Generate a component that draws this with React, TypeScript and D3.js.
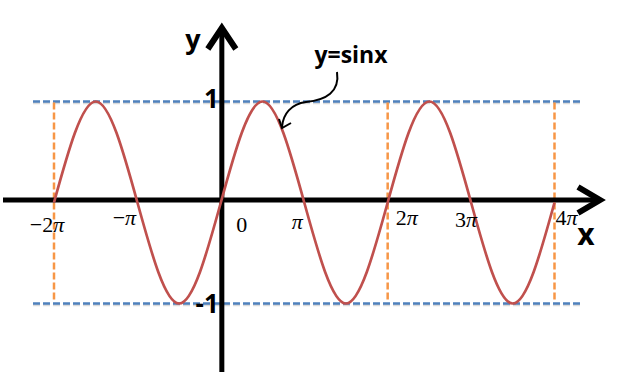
import React from "react";
import * as d3 from "d3";

// x in units of π, y = value
const curveX = [-2, -1.5, -1, -0.5, 0, 0.5, 1, 1.5, 2, 2.5, 3, 3.5, 4];
const curveY = [0, 1, 0, -1, 0, 1, 0, -1, 0, 1, 0, -1, 0];
const tickValues = [-2, -1, 0, 1, 2, 3, 4];
const tickNums = ["−2", "−", "0", "", "2", "3", "4"];
const tickPi = [true, true, false, true, true, true, true];
const guideX = [-2, 2, 4];
const guideY = [1, -1];
const yTickValues = [1, -1];
const yTickLabels = ["1", "-1"];
const title = "y=sinx";

// layout offsets for tick labels (dx, dy from tick / axis)
const tickDx = [-7, -13, 21, -7, 19, -5, 12];
const tickDy = [32, 25, 32, 29, 25, 27, 25];

export default function App() {
  const W = 630, H = 380;
  const x = d3.scaleLinear().domain([-2, 4]).range([54, 554.5]);
  const y = d3.scaleLinear().domain([-1, 1]).range([303.5, 101.5]);
  const axisY = 200;
  const axisX = x(0) + 1;

  const pts: [number, number][] = curveX.map((v, i) => [v, curveY[i]]);
  const line = d3
    .line<[number, number]>()
    .x((d) => x(d[0]))
    .y((d) => y(d[1]))
    .curve(d3.curveNatural);

  const serif = "'Liberation Serif', 'Times New Roman', serif";
  const sans = "'Open Sans', 'DejaVu Sans', sans-serif";

  return (
    <svg
      width={W}
      height={H}
      style={{ position: "absolute", left: 0, top: 0, background: "#fff" }}
    >
      {guideY.map((g) => (
        <g key={"gy" + g}>
          <line
            x1={33}
            x2={580}
            y1={y(g) + 1.5}
            y2={y(g) + 1.5}
            stroke="#999"
            strokeOpacity={0.35}
            strokeWidth={2.5}
            strokeDasharray="7,3"
          />
          <line
            x1={33}
            x2={580}
            y1={y(g)}
            y2={y(g)}
            stroke="#4F81BD"
            strokeWidth={2.5}
            strokeDasharray="7,3"
          />
        </g>
      ))}
      {guideX.map((g) => (
        <line
          key={"gx" + g}
          x1={x(g)}
          x2={x(g)}
          y1={y(1) + 1}
          y2={y(-1) - 1}
          stroke="#F79646"
          strokeWidth={2.5}
          strokeDasharray="7,3"
        />
      ))}
      <line x1={3} x2={598} y1={axisY} y2={axisY} stroke="#000" strokeWidth={5} />
      <polyline
        points={`578,187 600,${axisY} 578,213`}
        fill="none"
        stroke="#000"
        strokeWidth={6}
        strokeLinejoin="miter"
      />
      <line x1={axisX} x2={axisX} y1={372} y2={30} stroke="#000" strokeWidth={5} />
      <polyline
        points={`${axisX - 14},49 ${axisX},28 ${axisX + 14},49`}
        fill="none"
        stroke="#000"
        strokeWidth={6}
        strokeLinejoin="miter"
      />
      <path d={line(pts) || ""} fill="none" stroke="#C0504D" strokeWidth={2.7} />
      {tickValues.map((v, i) => (
        <text
          key={"t" + v}
          x={x(v) + tickDx[i]}
          y={axisY + tickDy[i]}
          textAnchor="middle"
          fontFamily={serif}
          fontSize={22}
          fill="#000"
        >
          {tickNums[i]}
          {tickPi[i] ? <tspan fontStyle="italic">π</tspan> : null}
        </text>
      ))}
      {yTickValues.map((v, i) => (
        <text
          key={"yt" + v}
          x={axisX - 3}
          y={y(v) + (v > 0 ? 6 : 9)}
          textAnchor="end"
          fontFamily={sans}
          fontWeight="bold"
          fontSize={26}
          fill="#000"
        >
          {yTickLabels[i]}
        </text>
      ))}
      <text x={193} y={49} textAnchor="middle" fontFamily={sans} fontWeight="bold" fontSize={27} fill="#000">
        y
      </text>
      <text x={586} y={245} textAnchor="middle" fontFamily={sans} fontWeight="bold" fontSize={30} fill="#000">
        x
      </text>
      <text x={351} y={63} textAnchor="middle" fontFamily={sans} fontWeight="bold" fontSize={23} fill="#000">
        {title}
      </text>
      <path
        d="M337,72 C340,92 326,100 306,102 C291,104 283,114 282,127"
        fill="none"
        stroke="#000"
        strokeWidth={2}
      />
      <polyline points="279,119 282,128 291,123" fill="none" stroke="#000" strokeWidth={2} />
    </svg>
  );
}
